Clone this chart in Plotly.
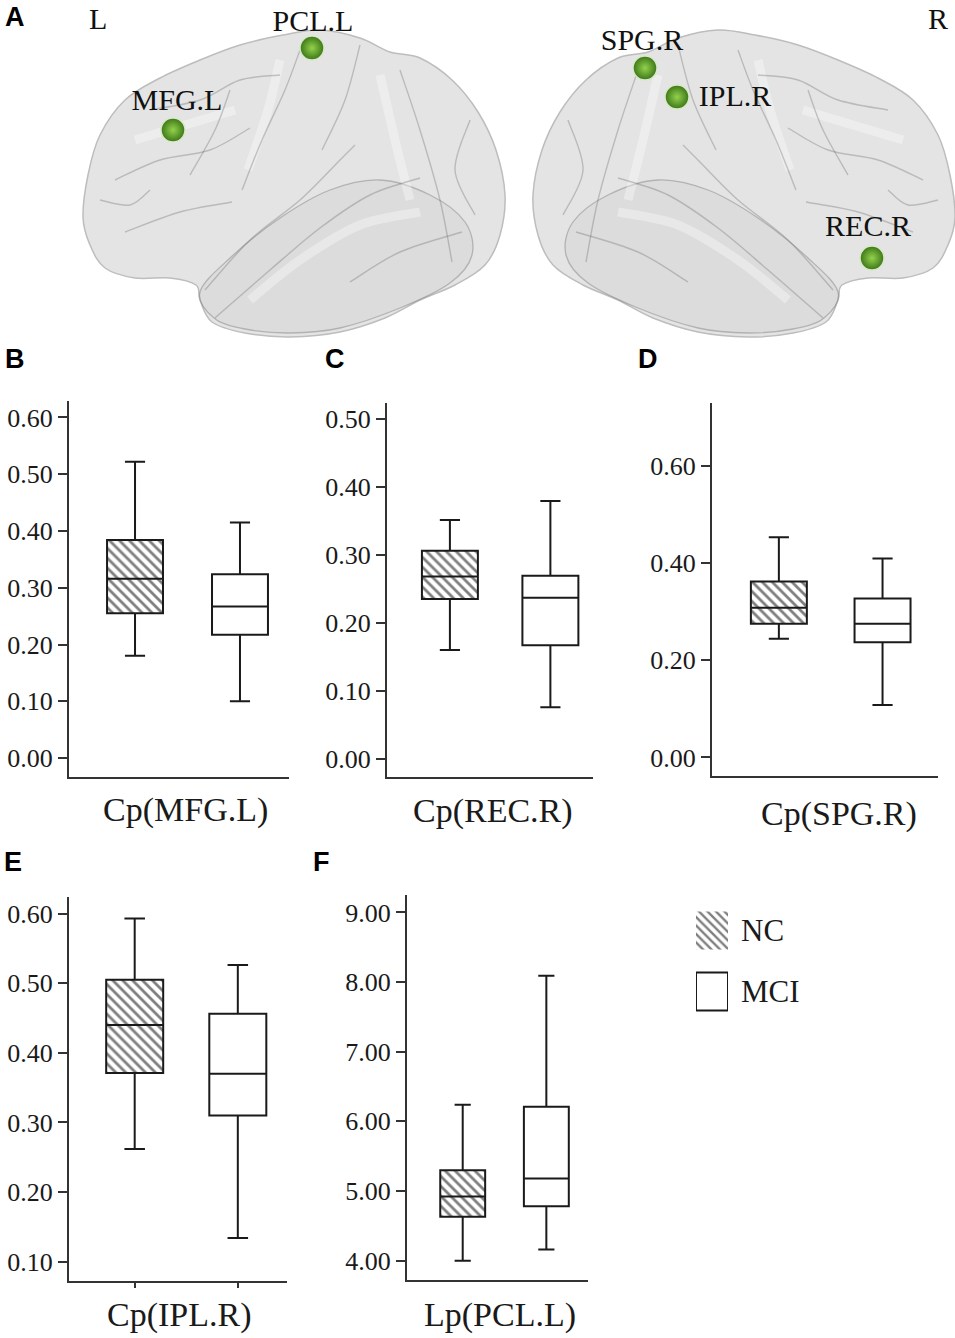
import plotly.graph_objects as go

W, H = 955, 1338

# ---------------- data ----------------
groups = ['NC', 'MCI']
panels = ['B', 'C', 'D', 'E', 'F']
titles = ['Cp(MFG.L)', 'Cp(REC.R)', 'Cp(SPG.R)', 'Cp(IPL.R)', 'Lp(PCL.L)']

# box statistics, one [NC, MCI] pair per panel
upper = [[0.522, 0.415], [0.351, 0.379], [0.453, 0.409], [0.593, 0.526], [6.24, 8.09]]
q3 = [[0.384, 0.324], [0.306, 0.269], [0.362, 0.327], [0.505, 0.456], [5.30, 6.21]]
median = [[0.316, 0.267], [0.268, 0.237], [0.308, 0.275], [0.440, 0.370], [4.92, 5.18]]
q1 = [[0.255, 0.217], [0.235, 0.167], [0.275, 0.237], [0.371, 0.310], [4.63, 4.78]]
lower = [[0.180, 0.100], [0.160, 0.076], [0.244, 0.108], [0.262, 0.134], [4.00, 4.16]]

yticks = [
    [0.0, 0.1, 0.2, 0.3, 0.4, 0.5, 0.6],
    [0.0, 0.1, 0.2, 0.3, 0.4, 0.5],
    [0.0, 0.2, 0.4, 0.6],
    [0.1, 0.2, 0.3, 0.4, 0.5, 0.6],
    [4.0, 5.0, 6.0, 7.0, 8.0, 9.0],
]

# brain network nodes (panel A, picture pixels)
node_names = ['PCL.L', 'MFG.L', 'SPG.R', 'IPL.R', 'REC.R']
node_x = [312, 173, 645, 677, 872]
node_y = [48, 130, 68, 97, 258]
label_x = [313, 177, 642, 735, 868]
label_y = [23, 102, 42, 98, 228]

# ---------------- layout of each box panel (pixels) ----------------
# axis box x0..x1, y0..y1, value ranges, box width, title centre, letter centre
geom = {
    'B': dict(x0=69, x1=289, y0=401, y1=777, yr=[-0.0334, 0.629], xr=[0.371, 2.467], w=0.533,
              tx=185, ty=810, lx=15, ly=359),
    'C': dict(x0=387, x1=593, y0=403, y1=777, yr=[-0.0264, 0.5228], xr=[0.374, 2.424], w=0.557,
              tx=493, ty=811, lx=335, ly=359),
    'D': dict(x0=712, x1=938, y0=403, y1=776, yr=[-0.0381, 0.729], xr=[0.355, 2.535], w=0.54,
              tx=839, ty=814, lx=648, ly=359),
    'E': dict(x0=69, x1=287, y0=897, y1=1281, yr=[0.0723, 0.6237], xr=[0.363, 2.477], w=0.553,
              tx=179, ty=1315, lx=13, ly=862),
    'F': dict(x0=407, x1=588, y0=895, y1=1280, yr=[3.723, 9.25], xr=[0.334, 2.498], w=0.537,
              tx=500, ty=1315, lx=321, ly=862),
}

SERIF = 'Liberation Serif'
SANS = 'Liberation Sans'
INK = '#1a1a1a'


def fx(p):
    return p / W


def fy(p):
    return 1 - p / H


def note(x, y, text, font):
    # text centred on a picture-pixel position
    return dict(x=fx(x), y=fy(y), xref='paper', yref='paper', xanchor='center', yanchor='middle',
                text=text, showarrow=False, font=font)


def smooth_path(pts, closed=True):
    # Catmull-Rom through the points, written as cubic bezier segments
    n = len(pts)
    d = 'M{},{}'.format(*pts[0])
    steps = range(n) if closed else range(n - 1)
    for i in steps:
        if closed:
            p0, p1, p2, p3 = pts[(i - 1) % n], pts[i], pts[(i + 1) % n], pts[(i + 2) % n]
        else:
            p0, p1, p2, p3 = pts[max(i - 1, 0)], pts[i], pts[i + 1], pts[min(i + 2, n - 1)]
        c1 = (p1[0] + (p2[0] - p0[0]) / 6, p1[1] + (p2[1] - p0[1]) / 6)
        c2 = (p2[0] - (p3[0] - p1[0]) / 6, p2[1] - (p3[1] - p1[1]) / 6)
        d += ' C{:.1f},{:.1f} {:.1f},{:.1f} {},{}'.format(c1[0], c1[1], c2[0], c2[1], p2[0], p2[1])
    if closed:
        d += ' Z'
    return d


fig = go.Figure()
shapes = []
annotations = []

# ---------------- panel A : brain sketch ----------------
left_outline = [(83, 217), (88, 175), (100, 135), (125, 100), (160, 78), (200, 60), (240, 45),
                (283, 35), (320, 30), (360, 38), (390, 52), (420, 58), (452, 80), (478, 112),
                (496, 150), (505, 195), (500, 235), (485, 265), (455, 285), (420, 300),
                (385, 318), (340, 332), (290, 337), (245, 333), (212, 322), (200, 300),
                (196, 285), (170, 278), (135, 278), (105, 268), (90, 245)]
left_temporal = [(200, 292), (230, 258), (280, 218), (330, 190), (380, 180), (430, 195),
                 (465, 222), (472, 255), (450, 283), (400, 308), (340, 328), (290, 333),
                 (245, 329), (214, 318)]
left_sulci = [
    [(205, 290), (250, 240), (300, 200), (340, 160), (355, 145)],
    [(215, 318), (270, 270), (320, 228), (370, 195), (420, 178)],
    [(300, 50), (285, 90), (262, 140), (242, 190)],
    [(360, 45), (345, 100), (322, 150)],
    [(115, 180), (160, 160), (210, 150), (250, 128)],
    [(125, 232), (180, 212), (232, 202)],
    [(400, 70), (420, 130), (440, 200), (452, 262)],
    [(350, 282), (400, 252), (462, 232)],
    [(150, 110), (200, 100), (240, 80), (280, 75)],
    [(470, 120), (455, 170), (475, 215)],
    [(100, 200), (130, 205), (150, 190)],
    [(230, 90), (215, 130), (190, 175)],
]
# soft white ridges between the sulci
left_ridges = [
    [(280, 60), (268, 110), (248, 170)],
    [(135, 140), (185, 125), (235, 110)],
    [(380, 75), (395, 140), (410, 200)],
    [(250, 300), (300, 260), (360, 225), (420, 212)],
]


def mirror(pts):
    return [(1038 - x, y) for x, y in pts]


for outline, temporal, sulci, ridges in [
        (left_outline, left_temporal, left_sulci, left_ridges),
        (mirror(left_outline), mirror(left_temporal),
         [mirror(s) for s in left_sulci], [mirror(r) for r in left_ridges])]:
    shapes.append(dict(type='path', xref='x', yref='y', path=smooth_path(outline), layer='below',
                       fillcolor='#e4e4e4', line=dict(color='#bdbdbd', width=1.5)))
    shapes.append(dict(type='path', xref='x', yref='y', path=smooth_path(temporal), layer='below',
                       fillcolor='rgba(0,0,0,0.03)', line=dict(color='rgba(110,110,110,0.4)', width=1.3)))
    for r in ridges:
        shapes.append(dict(type='path', xref='x', yref='y', path=smooth_path(r, closed=False),
                           layer='below', line=dict(color='rgba(255,255,255,0.35)', width=9)))
    for s in sulci:
        shapes.append(dict(type='path', xref='x', yref='y', path=smooth_path(s, closed=False),
                           layer='below', line=dict(color='rgba(110,110,110,0.35)', width=1.4)))

fig.add_trace(go.Scatter(x=node_x, y=node_y, mode='markers',
                         marker=dict(size=24, color='#3c7618', line=dict(color='#d8e8c8', width=1.5),
                                     gradient=dict(type='radial', color='#92d24c')),
                         xaxis='x', yaxis='y', hoverinfo='skip'))
fig.add_trace(go.Scatter(x=label_x, y=label_y, mode='text', text=node_names,
                         textposition='middle center',
                         textfont=dict(family=SERIF, size=30, color='#111'),
                         xaxis='x', yaxis='y', hoverinfo='skip'))

annotations.append(note(98, 18, 'L', dict(family=SERIF, size=30, color='#111')))
annotations.append(note(938, 18, 'R', dict(family=SERIF, size=30, color='#111')))
annotations.append(note(15, 17, '<b>A</b>', dict(family=SANS, size=27, color='black')))

layout_axes = {
    'xaxis': dict(domain=[0, 1], range=[0, W], visible=False, fixedrange=True),
    'yaxis': dict(domain=[fy(345), 1], range=[345, 0], visible=False, fixedrange=True),
}

# ---------------- panels B-F : box plots ----------------
for i, p in enumerate(panels):
    g = geom[p]
    k = i + 2
    xa, ya = 'x%d' % k, 'y%d' % k
    # hatched fill for the NC box
    fig.add_trace(go.Bar(x=[1], y=[q3[i][0] - q1[i][0]], base=[q1[i][0]], width=g['w'],
                         marker=dict(color='white', line=dict(width=0),
                                     pattern=dict(shape='\\', fgcolor='black', bgcolor='white',
                                                  size=7, solidity=0.4)),
                         xaxis=xa, yaxis=ya, hoverinfo='skip'))
    fig.add_trace(go.Box(x=[1, 2], q1=q1[i], median=median[i], q3=q3[i],
                         lowerfence=lower[i], upperfence=upper[i], width=g['w'],
                         boxpoints=False, whiskerwidth=0.36, fillcolor='rgba(0,0,0,0)',
                         line=dict(color=INK, width=2), name=titles[i],
                         xaxis=xa, yaxis=ya))
    layout_axes['xaxis%d' % k] = dict(
        domain=[fx(g['x0']), fx(g['x1'])], range=g['xr'], anchor=ya,
        showline=True, linecolor='#333', linewidth=2, showgrid=False, zeroline=False,
        showticklabels=False, tickvals=[1, 2],
        ticks='outside' if p == 'E' else '', ticklen=5, tickwidth=1.5, tickcolor='#333',
        fixedrange=True)
    layout_axes['yaxis%d' % k] = dict(
        domain=[fy(g['y1']), fy(g['y0'])], range=g['yr'], anchor=xa,
        showline=True, linecolor='#333', linewidth=2, showgrid=False, zeroline=False,
        tickvals=yticks[i], tickformat='.2f', ticks='outside', ticklen=9, tickwidth=2,
        tickcolor='#333', tickfont=dict(family=SERIF, size=26, color=INK), fixedrange=True)
    annotations.append(note(g['tx'], g['ty'], titles[i], dict(family=SERIF, size=34, color=INK)))
    annotations.append(note(g['lx'], g['ly'], '<b>%s</b>' % p, dict(family=SANS, size=27, color='black')))

# ---------------- legend (swatches as bars, labels as tick labels) ----------------
fig.add_trace(go.Bar(y=groups, x=[1, 1], orientation='h', width=0.62,
                     marker=dict(color='white', line=dict(color=[INK, INK], width=[0, 2]),
                                 pattern=dict(shape=['\\', ''], fgcolor='black', bgcolor='white',
                                              size=6, solidity=0.4)),
                     xaxis='x7', yaxis='y7', hoverinfo='skip'))
layout_axes['xaxis7'] = dict(domain=[fx(696), fx(728)], range=[0, 1], visible=False,
                             anchor='y7', fixedrange=True)
layout_axes['yaxis7'] = dict(domain=[fy(1022), fy(900)], autorange='reversed', anchor='x7',
                             side='right', showline=False, showgrid=False, zeroline=False,
                             ticks='', ticklabelstandoff=12,
                             tickfont=dict(family=SERIF, size=31, color=INK), fixedrange=True)

fig.update_layout(
    width=W, height=H, margin=dict(l=0, r=0, t=0, b=0),
    paper_bgcolor='white', plot_bgcolor='rgba(0,0,0,0)',
    showlegend=False, shapes=shapes, annotations=annotations,
    **layout_axes
)

# the page body has a default 8px margin; drop it so the figure sits at the window corner
fig.write_html('out.html', config={'displayModeBar': False},
               post_script="document.body.style.margin='0';")
